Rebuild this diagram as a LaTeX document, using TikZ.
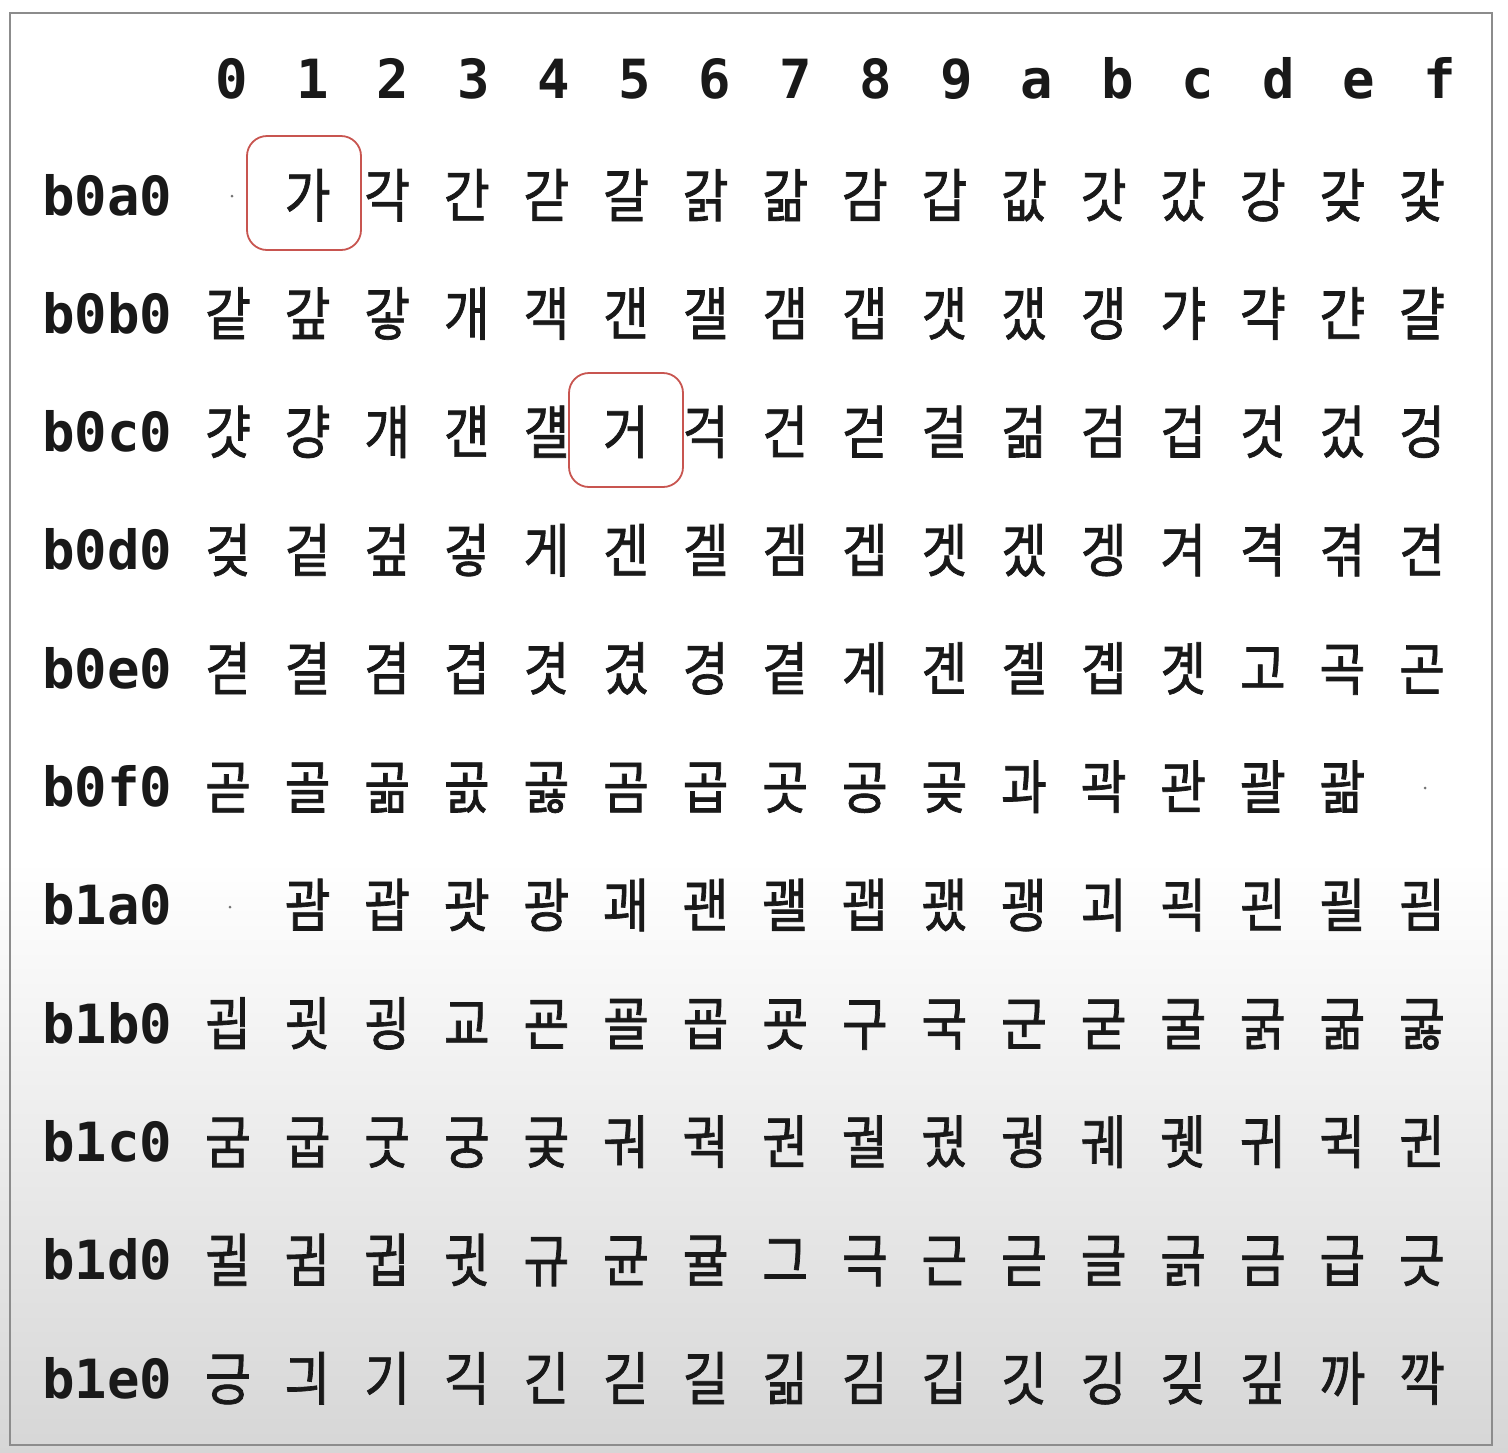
\documentclass[tikz,border=0pt]{standalone}
\usepackage{fontspec}
\newfontfamily\kofont[FakeStretch=0.86, FakeBold=1.2]{Noto Sans CJK KR}
\newfontfamily\hexfont{DejaVu Sans Mono}
\definecolor{framegray}{gray}{0.55}
\definecolor{inkc}{gray}{0.1}
\definecolor{boxred}{RGB}{200,85,80}
\definecolor{dotc}{gray}{0.45}
\tikzset{
  kochar/.style={inner sep=0pt, anchor=base, text=inkc, font=\kofont\fontsize{58}{64}\selectfont},
  hexhead/.style={inner sep=0pt, anchor=base, text=inkc, font=\hexfont\bfseries\fontsize{54}{60}\selectfont},
  rowlabel/.style={inner sep=0pt, anchor=base west, text=inkc, font=\hexfont\bfseries\fontsize{54}{60}\selectfont},
  hlbox/.style={draw=boxred, line width=1.8pt, rounded corners=20pt, minimum width=114pt, minimum height=114pt, inner sep=0pt},
  tinydot/.style={circle, fill=dotc, inner sep=0pt, minimum size=3pt}
}
\begin{document}
\begin{tikzpicture}[x=1pt,y=-1pt]
\useasboundingbox (0,0) rectangle (1508,1452);
\fill[white] (0,0) rectangle (1508,1452);
\shade[top color=white, bottom color=black!16] (0,860) rectangle (1508,1452);
\draw[framegray, line width=2pt] (10,13) rectangle (1492,1445);
% header
\foreach \h [count=\i from 0] in {0,1,2,3,4,5,6,7,8,9,a,b,c,d,e,f} {
  \node[hexhead] (h\i) at ({232+80.5*\i},98) {\h};
}
% row labels
\foreach \l [count=\j from 0] in {b0a0,b0b0,b0c0,b0d0,b0e0,b0f0,b1a0,b1b0,b1c0,b1d0,b1e0} {
  \node[rowlabel] (l\j) at (42,{195+118.3*\j+20}) {\l};
}
% cells
\foreach \row [count=\j from 0] in {
 {{},가,각,간,갇,갈,갉,갊,감,갑,값,갓,갔,강,갖,갗},
 {같,갚,갛,개,객,갠,갤,갬,갭,갯,갰,갱,갸,갹,갼,걀},
 {걋,걍,걔,걘,걜,거,걱,건,걷,걸,걺,검,겁,것,겄,겅},
 {겆,겉,겊,겋,게,겐,겔,겜,겝,겟,겠,겡,겨,격,겪,견},
 {겯,결,겸,겹,겻,겼,경,곁,계,곈,곌,곕,곗,고,곡,곤},
 {곧,골,곪,곬,곯,곰,곱,곳,공,곶,과,곽,관,괄,괆,{}},
 {{},괌,괍,괏,광,괘,괜,괠,괩,괬,괭,괴,괵,괸,괼,굄},
 {굅,굇,굉,교,굔,굘,굡,굣,구,국,군,굳,굴,굵,굶,굻},
 {굼,굽,굿,궁,궂,궈,궉,권,궐,궜,궝,궤,궷,귀,귁,귄},
 {귈,귐,귑,귓,규,균,귤,그,극,근,귿,글,긁,금,급,긋},
 {긍,긔,기,긱,긴,긷,길,긺,김,깁,깃,깅,깆,깊,까,깍}} {
  \foreach \ch [count=\i from 0] in \row {
    \node[kochar] (c-\j-\i) at ({228+79.6*\i},{195+118.3*\j+22}) {\ch};
  }
}
% tiny dots in empty cells
\node[tinydot] (d1) at (232,196) {};
\node[tinydot] (d2) at (1425,788) {};
\node[tinydot] (d3) at (230,907) {};
% highlight boxes
\node[hlbox] (hl1) at (304,193) {};
\node[hlbox] (hl2) at (626,430) {};
\end{tikzpicture}
\end{document}
